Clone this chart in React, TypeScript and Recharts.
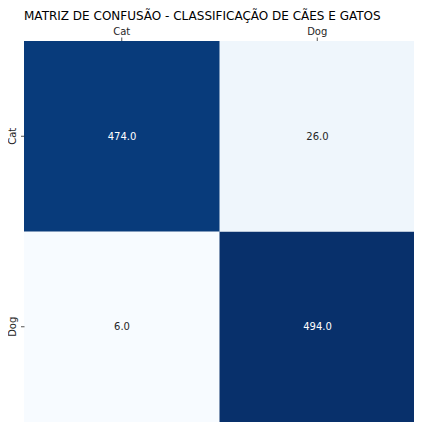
import { Bar, BarChart, Cell, LabelList, XAxis, YAxis } from "recharts"

const title = "MATRIZ DE CONFUSÃO - CLASSIFICAÇÃO DE CÃES E GATOS"
const predicted = ["Cat", "Dog"]
const actual = ["Cat", "Dog"]
const catRow = [474, 26]
const dogRow = [6, 494]

const rows = [catRow, dogRow]
const allValues = rows.flat()
const vmin = Math.min(...allValues)
const vmax = Math.max(...allValues)

// matplotlib "Blues"
const blues = ["#f7fbff", "#deebf7", "#c6dbef", "#9ecae1", "#6baed6", "#4292c6", "#2171b5", "#08519c", "#08306b"]

function hexToRgb(h: string) {
    return [1, 3, 5].map((i) => parseInt(h.slice(i, i + 2), 16))
}

function colorFor(v: number) {
    const t = (v - vmin) / (vmax - vmin)
    const pos = t * (blues.length - 1)
    const i = Math.min(Math.floor(pos), blues.length - 2)
    const f = pos - i
    const a = hexToRgb(blues[i])
    const b = hexToRgb(blues[i + 1])
    const c = a.map((x, k) => Math.round(x + (b[k] - x) * f))
    return `rgb(${c[0]},${c[1]},${c[2]})`
}

function textColor(v: number) {
    return (v - vmin) / (vmax - vmin) > 0.5 ? "#ffffff" : "#262626"
}

// one entry per predicted column; each row is a stacked segment of height 1
const data = predicted.map((p, j) => ({
    label: p,
    catSpan: 1,
    dogSpan: 1,
    catValue: catRow[j],
    dogValue: dogRow[j],
}))

const font = "DejaVu Sans, sans-serif"

const YTick = (props: any) => {
    const { x, y, payload } = props
    const name = payload.value > 1 ? actual[0] : actual[1]
    return (
        <g>
            <line x1={x - 1} x2={x + 2.5} y1={y} y2={y} stroke="#262626" strokeWidth={0.8} />
            <text
                x={x - 6}
                y={y}
                transform={`rotate(-90, ${x - 6}, ${y})`}
                textAnchor="middle"
                fontSize={10}
                fontFamily={font}
                fill="#262626"
            >
                {name}
            </text>
        </g>
    )
}

const cellLabel = (key: "catValue" | "dogValue") => (props: any) => {
    const { x, y, width, height, index } = props
    const v = data[index][key]
    return (
        <text
            x={x + width / 2}
            y={y + height / 2}
            dy={3.5}
            textAnchor="middle"
            fontSize={10}
            fontFamily={font}
            fill={textColor(v)}
        >
            {v.toFixed(1)}
        </text>
    )
}

export default function App() {
    return (
        <div style={{ position: "relative", width: 414, height: 421, fontFamily: font }}>
            <div
                style={{
                    position: "absolute",
                    left: 16,
                    top: 1,
                    fontSize: 12,
                    color: "#000",
                    whiteSpace: "nowrap",
                    lineHeight: "15px",
                }}
            >
                {title}
            </div>
            <BarChart
                width={414}
                height={421}
                data={data}
                margin={{ top: 13, right: 7, bottom: 7, left: 0 }}
                barCategoryGap={0}
                barGap={0}
            >
                <XAxis
                    dataKey="label"
                    orientation="top"
                    axisLine={false}
                    tickSize={3.5}
                    tickLine={{ stroke: "#262626", strokeWidth: 0.8 }}
                    tick={{ fontSize: 10, fill: "#262626", fontFamily: font }}
                    tickMargin={3}
                    height={20}
                    interval={0}
                />
                <YAxis
                    type="number"
                    domain={[0, 2]}
                    ticks={[0.5, 1.5]}
                    width={16}
                    axisLine={false}
                    tickLine={false}
                    tickSize={0}
                    tick={<YTick />}
                />
                <Bar dataKey="dogSpan" stackId="m" isAnimationActive={false}>
                    {data.map((d, i) => (
                        <Cell key={i} fill={colorFor(d.dogValue)} />
                    ))}
                    <LabelList dataKey="dogValue" content={cellLabel("dogValue")} />
                </Bar>
                <Bar dataKey="catSpan" stackId="m" isAnimationActive={false}>
                    {data.map((d, i) => (
                        <Cell key={i} fill={colorFor(d.catValue)} />
                    ))}
                    <LabelList dataKey="catValue" content={cellLabel("catValue")} />
                </Bar>
            </BarChart>
        </div>
    )
}
